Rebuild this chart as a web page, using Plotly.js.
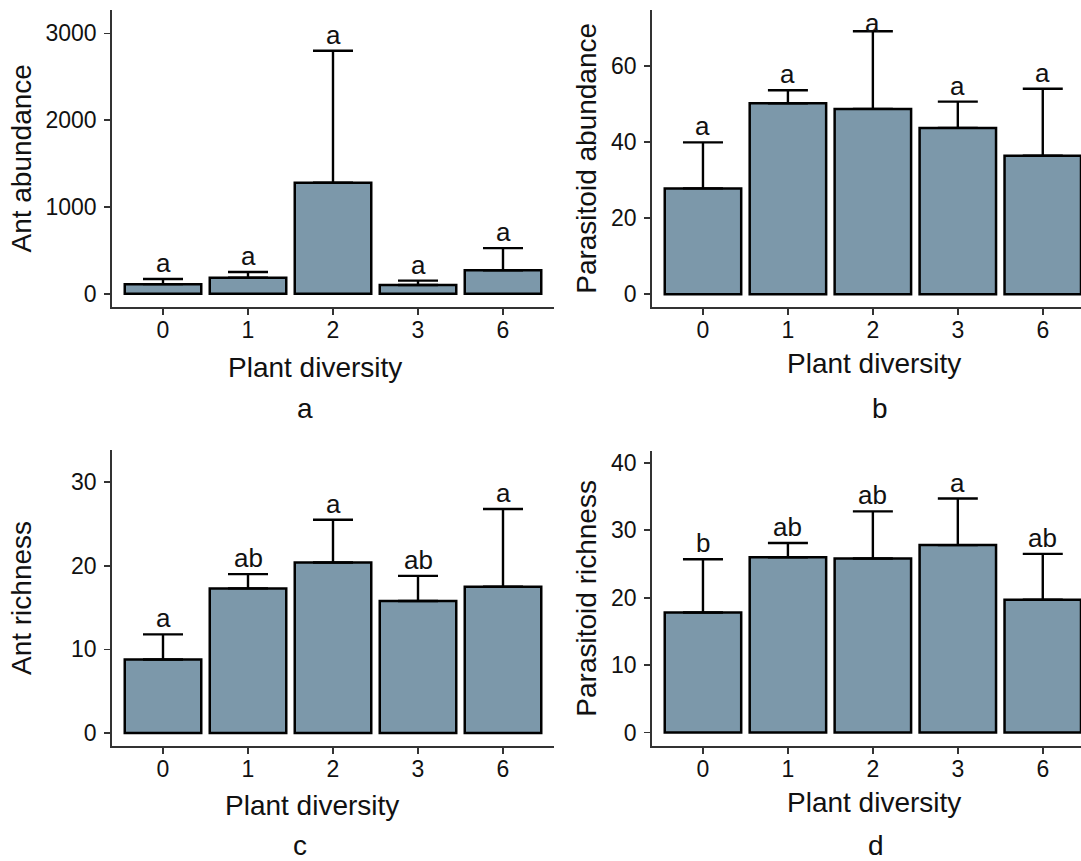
<!DOCTYPE html>
<html>
<head>
<meta charset="utf-8">
<script src="https://cdn.plot.ly/plotly-3.0.1.min.js"></script>
<style>
  html, body { margin: 0; padding: 0; background: #ffffff; }
  #chart { width: 1081px; height: 861px; }
</style>
</head>
<body>
<div id="chart"></div>
<script>
// ---- data ----
const categories = ["0", "1", "2", "3", "6"];

const antAbundance        = [110, 185, 1280, 100, 270];
const antAbundanceUpper   = [170, 250, 2800, 150, 525];
const antAbundanceLetters = ["a", "a", "a", "a", "a"];

const parasitoidAbundance        = [27.8, 50.2, 48.7, 43.7, 36.4];
const parasitoidAbundanceUpper   = [39.9, 53.6, 69.1, 50.6, 54.0];
const parasitoidAbundanceLetters = ["a", "a", "a", "a", "a"];

const antRichness        = [8.8, 17.3, 20.4, 15.8, 17.5];
const antRichnessUpper   = [11.8, 19.0, 25.5, 18.8, 26.8];
const antRichnessLetters = ["a", "ab", "a", "ab", "a"];

const parasitoidRichness        = [17.8, 26.0, 25.8, 27.8, 19.7];
const parasitoidRichnessUpper   = [25.7, 28.1, 32.8, 34.7, 26.5];
const parasitoidRichnessLetters = ["b", "ab", "ab", "a", "ab"];

const yTicksA = [0, 1000, 2000, 3000];
const yTicksB = [0, 20, 40, 60];
const yTicksC = [0, 10, 20, 30];
const yTicksD = [0, 10, 20, 30, 40];

const xTitle = "Plant diversity";
const panelLabels = ["a", "b", "c", "d"];

// ---- styling ----
const W = 1081, H = 861;
const FONT = "Liberation Sans, Arial, Helvetica, sans-serif";
const BAR_FILL = "#7c98aa";
const AXIS_COL = "#333333";
const TEXT_COL = "#111111";

function px2x(p) { return p / W; }
function py2y(p) { return (H - p) / H; }

const panels = [
  { mean: antAbundance, upper: antAbundanceUpper, letters: antAbundanceLetters,
    xa: "x", ya: "y", xdom: [112, 554], ydom: [10, 306.7], xr: [-0.6, 4.6], yr: [-150, 3270],
    ticks: yTicksA, ytitle: "Ant abundance", standoff: 6, titleXY: [315, 367], labelXY: [305, 408] },
  { mean: parasitoidAbundance, upper: parasitoidAbundanceUpper, letters: parasitoidAbundanceLetters,
    xa: "x2", ya: "y2", xdom: [652, 1081], ydom: [10, 306.7], xr: [-0.6, 4.45], yr: [-3.3, 74.7],
    ticks: yTicksB, ytitle: "Parasitoid abundance", standoff: 6, titleXY: [874, 363], labelXY: [880, 408] },
  { mean: antRichness, upper: antRichnessUpper, letters: antRichnessLetters,
    xa: "x3", ya: "y3", xdom: [112, 554], ydom: [450, 746], xr: [-0.6, 4.6], yr: [-1.55, 33.85],
    ticks: yTicksC, ytitle: "Ant richness", standoff: 31, titleXY: [312, 805], labelXY: [300, 845] },
  { mean: parasitoidRichness, upper: parasitoidRichnessUpper, letters: parasitoidRichnessLetters,
    xa: "x4", ya: "y4", xdom: [652, 1081], ydom: [450.7, 746], xr: [-0.6, 4.45], yr: [-2.0, 41.8],
    ticks: yTicksD, ytitle: "Parasitoid richness", standoff: 6, titleXY: [874, 802], labelXY: [876, 845] }
];

const traces = [];
const annotations = [];
const layout = {
  width: W, height: H,
  margin: { l: 0, r: 0, t: 0, b: 0, pad: 0 },
  paper_bgcolor: "#ffffff",
  plot_bgcolor: "#ffffff",
  showlegend: false,
  font: { family: FONT, color: TEXT_COL },
  annotations: annotations
};

panels.forEach((p, i) => {
  const err = p.upper.map((u, k) => u - p.mean[k]);
  const zeros = p.mean.map(() => 0);
  traces.push({
    type: "bar",
    x: categories,
    y: p.mean,
    xaxis: p.xa, yaxis: p.ya,
    width: 0.9,
    marker: { color: BAR_FILL, line: { color: "#000000", width: 2.5 } },
    error_y: { type: "data", symmetric: false, array: err, arrayminus: zeros,
               color: "#000000", thickness: 2.4, width: 20 },
    hoverinfo: "x+y"
  });

  const xKey = i === 0 ? "xaxis" : "xaxis" + (i + 1);
  const yKey = i === 0 ? "yaxis" : "yaxis" + (i + 1);
  layout[xKey] = {
    type: "category",
    domain: [px2x(p.xdom[0]), px2x(p.xdom[1])],
    anchor: p.ya,
    range: p.xr,
    showline: true, linecolor: AXIS_COL, linewidth: 1.8,
    ticks: "outside", ticklen: 6, tickwidth: 1.8, tickcolor: AXIS_COL,
    ticklabelstandoff: -4,
    tickfont: { size: 23, color: TEXT_COL, family: FONT },
    showgrid: false, zeroline: false, fixedrange: true
  };
  layout[yKey] = {
    domain: [py2y(p.ydom[1]), py2y(p.ydom[0])],
    anchor: p.xa,
    range: p.yr,
    tickmode: "array", tickvals: p.ticks, ticktext: p.ticks.map(String),
    showline: true, linecolor: AXIS_COL, linewidth: 1.8,
    ticks: "outside", ticklen: 6, tickwidth: 1.8, tickcolor: AXIS_COL,
    ticklabelstandoff: 3,
    tickfont: { size: 23, color: TEXT_COL, family: FONT },
    showgrid: false, zeroline: false, fixedrange: true,
    title: { text: p.ytitle, font: { size: 28, family: FONT, color: TEXT_COL }, standoff: p.standoff }
  };

  // significance letters above error bars (x given as category index)
  p.letters.forEach((t, k) => {
    annotations.push({
      xref: p.xa, yref: p.ya, x: k, y: p.upper[k],
      text: t, showarrow: false, yanchor: "bottom", yshift: (i === 1 && k === 2) ? -9 : -1,
      font: { size: 26, family: FONT, color: TEXT_COL }
    });
  });

  // x axis title
  annotations.push({
    xref: "paper", yref: "paper", x: px2x(p.titleXY[0]), y: py2y(p.titleXY[1]),
    text: xTitle, showarrow: false, xanchor: "center", yanchor: "middle",
    font: { size: 28, family: FONT, color: TEXT_COL }
  });
  // panel label
  annotations.push({
    xref: "paper", yref: "paper", x: px2x(p.labelXY[0]), y: py2y(p.labelXY[1]),
    text: panelLabels[i], showarrow: false, xanchor: "center", yanchor: "middle",
    font: { size: 28, family: FONT, color: TEXT_COL }
  });
});

Plotly.newPlot("chart", traces, layout, { displayModeBar: false, staticPlot: true });
</script>
</body>
</html>
